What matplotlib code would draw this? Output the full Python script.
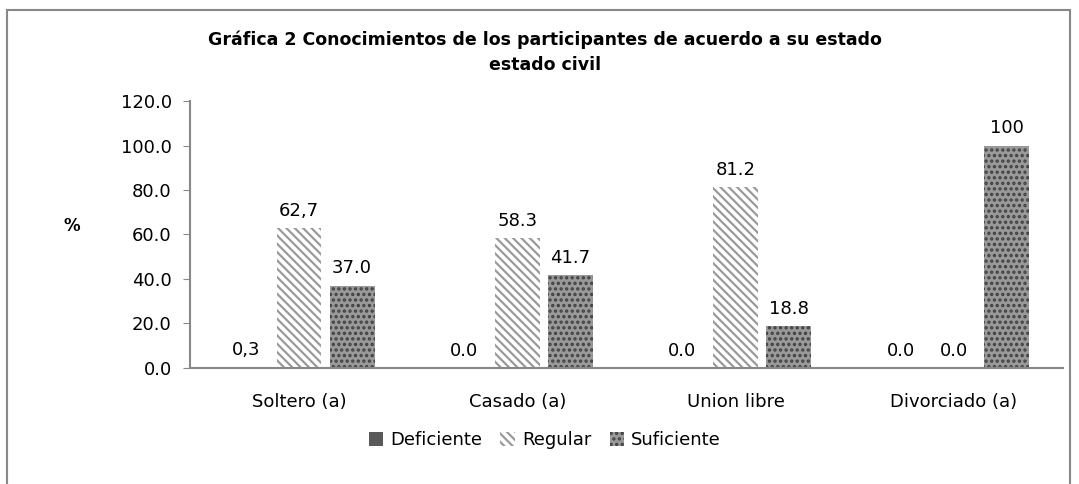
import numpy as np
import matplotlib.pyplot as plt
from matplotlib.patches import Rectangle

# data
categories = ['Soltero (a)', 'Casado (a)', 'Union libre', 'Divorciado (a)']
series = ['Deficiente', 'Regular', 'Suficiente']
deficiente = [0.3, 0.0, 0.0, 0.0]
regular = [62.7, 58.3, 81.2, 0.0]
suficiente = [37.0, 41.7, 18.8, 100.0]
# labels as printed on the chart (mixed decimal separators)
labels_def = ['0,3', '0.0', '0.0', '0.0']
labels_reg = ['62,7', '58.3', '81.2', '0.0']
labels_suf = ['37.0', '41.7', '18.8', '100']

plt.rcParams['font.family'] = 'DejaVu Sans'
plt.rcParams['hatch.linewidth'] = 1.6

fig = plt.figure(figsize=(10.79, 4.84), dpi=100)
ax = fig.add_axes([0.176, 0.240, 0.809, 0.551])

x = np.arange(len(categories))
w = 0.206
step = 0.243

b1 = ax.bar(x - step, deficiente, w, color='#595959', linewidth=0, label=series[0])
b2 = ax.bar(x, regular, w, facecolor='white', edgecolor='#9a9a9a', hatch='\\\\\\\\',
            linewidth=0, label=series[1])
b3 = ax.bar(x + step, suficiente, w, facecolor='#999999', edgecolor='#404040', hatch='...',
            linewidth=0, label=series[2])

for bars, labs in [(b1, labels_def), (b2, labels_reg), (b3, labels_suf)]:
    for rect, lab in zip(bars, labs):
        ax.annotate(lab, (rect.get_x() + rect.get_width() / 2, rect.get_height()),
                    xytext=(0, 6), textcoords='offset points',
                    ha='center', va='bottom', fontsize=13)

ax.set_xlim(-0.5, len(categories) - 0.5)
ax.set_ylim(0, 120)
ax.set_yticks(np.arange(0, 121, 20))
ax.set_yticklabels([f'{v:.1f}' for v in np.arange(0, 121, 20)])
ax.set_xticks(x)
ax.set_xticklabels(categories)
ax.tick_params(axis='y', labelsize=13, length=5, color='#888888', pad=8)
ax.tick_params(axis='x', labelsize=13, length=0, pad=18)

for s in ['top', 'right']:
    ax.spines[s].set_visible(False)
for s in ['left', 'bottom']:
    ax.spines[s].set_color('#888888')
    ax.spines[s].set_linewidth(1.5)

fig.text(0.505, 0.893, 'Gráfica 2 Conocimientos de los participantes de acuerdo a su estado\nestado civil',
         ha='center', va='center', fontsize=12.5, fontweight='bold', linespacing=1.5)
fig.text(0.067, 0.533, '%', ha='center', va='center', fontsize=12, fontweight='bold')

fig.legend(handles=[b1, b2, b3], loc='center', bbox_to_anchor=(0.505, 0.09), ncol=3,
           frameon=False, fontsize=13, handlelength=0.8, handleheight=0.8,
           handletextpad=0.4, columnspacing=1.0)

# outer chart frame
fig.patches.append(Rectangle((0.0065, -0.05), 0.985, 1.03, transform=fig.transFigure,
                             fill=False, edgecolor='#888888', linewidth=1.5))

plt.savefig('out.png', dpi=100)
